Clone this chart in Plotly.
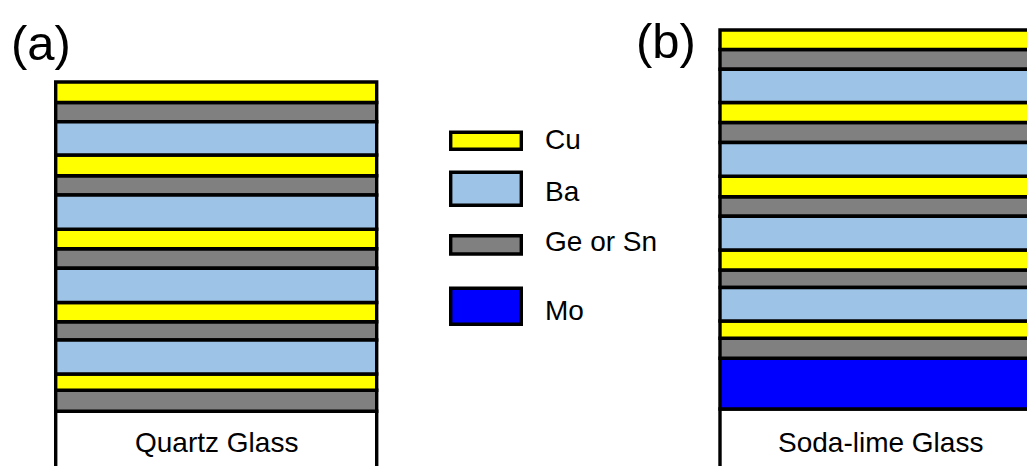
import plotly.graph_objects as go

# ---------------- data ----------------
materials = ["Cu", "Ba", "Ge or Sn", "Mo"]
colors = {"Cu": "#FFFF00", "Ba": "#9DC3E6", "Ge or Sn": "#808080", "Mo": "#0000FF",
          "substrate": "#FFFFFF"}

# panel (a): layers listed top -> bottom, thickness in arbitrary units
layers_a = ["Cu", "Ge or Sn", "Ba", "Cu", "Ge or Sn", "Ba", "Cu", "Ge or Sn", "Ba",
            "Cu", "Ge or Sn", "Ba", "Cu", "Ge or Sn"]
thick_a = [20.5, 19.2, 33.3, 20.7, 19.3, 34.2, 19.6, 19.5, 34.2,
           19.2, 18.3, 34.0, 16.3, 21.0]
substrate_a = "Quartz Glass"
substrate_thick_a = 64.7

# panel (b)
layers_b = ["Cu", "Ge or Sn", "Ba", "Cu", "Ge or Sn", "Ba", "Cu", "Ge or Sn", "Ba",
            "Cu", "Ge or Sn", "Ba", "Cu", "Ge or Sn", "Mo"]
thick_b = [19.5, 19.7, 33.3, 20.0, 20.0, 33.8, 20.4, 19.6, 33.7,
           20.0, 17.5, 33.5, 17.3, 20.0, 50.7]
substrate_b = "Soda-lime Glass"
substrate_thick_b = 67.0

panel_labels = ["(a)", "(b)"]

# legend swatch sizes (thickness units)
legend_thick = [17.0, 33.0, 18.3, 36.0]

# ---------------- layout constants ----------------
W, H = 1027, 466
panel_x = [216.2, 880.5]
panel_w = 321
leg_x, leg_w = 486, 70.6
leg_base = [326.8, 270.7, 222.0, 151.7]
leg_text_y = [337.0, 285.0, 235.0, 165.5]
FONT = "Liberation Sans, Arial, sans-serif"
LW = 3.4

fig = go.Figure()


def add_stack(xc, layers, thick, sub_name, sub_thick):
    # build from the bottom up
    bases = {}
    cur = 0.0
    entries = [(sub_name, "substrate", sub_thick)]
    for name, t in zip(reversed(layers), reversed(thick)):
        entries.append((name, name, t))
    for name, key, t in entries:
        bases.setdefault(key, []).append((cur, t))
        cur += t
    for key, segs in bases.items():
        fig.add_trace(go.Bar(
            x=[xc] * len(segs),
            y=[s[1] for s in segs],
            base=[s[0] for s in segs],
            width=[panel_w] * len(segs),
            marker=dict(color=colors[key], line=dict(color="black", width=LW)),
            showlegend=False, hoverinfo="skip",
        ))


add_stack(panel_x[0], layers_a, thick_a, substrate_a, substrate_thick_a)
add_stack(panel_x[1], layers_b, thick_b, substrate_b, substrate_thick_b)

# legend swatches
for m, t, b in zip(materials, legend_thick, leg_base):
    fig.add_trace(go.Bar(
        x=[leg_x], y=[t], base=[b], width=[leg_w],
        marker=dict(color=colors[m], line=dict(color="black", width=LW)),
        showlegend=False, hoverinfo="skip",
    ))

annotations = []
for m, ty in zip(materials, leg_text_y):
    annotations.append(dict(x=543, y=ty, text=m, showarrow=False, xanchor="left",
                            yanchor="middle", font=dict(family=FONT, size=28, color="black")))

annotations.append(dict(x=panel_x[0], y=34, text=substrate_a, showarrow=False,
                        xanchor="center", yanchor="middle",
                        font=dict(family=FONT, size=28, color="black")))
annotations.append(dict(x=panel_x[1], y=34, text=substrate_b, showarrow=False,
                        xanchor="center", yanchor="middle",
                        font=dict(family=FONT, size=28, color="black")))
annotations.append(dict(x=9, y=433, text=panel_labels[0], showarrow=False,
                        xanchor="left", yanchor="middle",
                        font=dict(family=FONT, size=49, color="black")))
annotations.append(dict(x=634, y=435, text=panel_labels[1], showarrow=False,
                        xanchor="left", yanchor="middle",
                        font=dict(family=FONT, size=49, color="black")))

fig.update_layout(
    width=W, height=H, margin=dict(l=0, r=0, t=0, b=0),
    paper_bgcolor="white", plot_bgcolor="white",
    barmode="overlay",
    xaxis=dict(range=[0, W], visible=False, fixedrange=True),
    yaxis=dict(range=[10, 476], visible=False, fixedrange=True),
    annotations=annotations,
)

fig.write_html("out.html")
